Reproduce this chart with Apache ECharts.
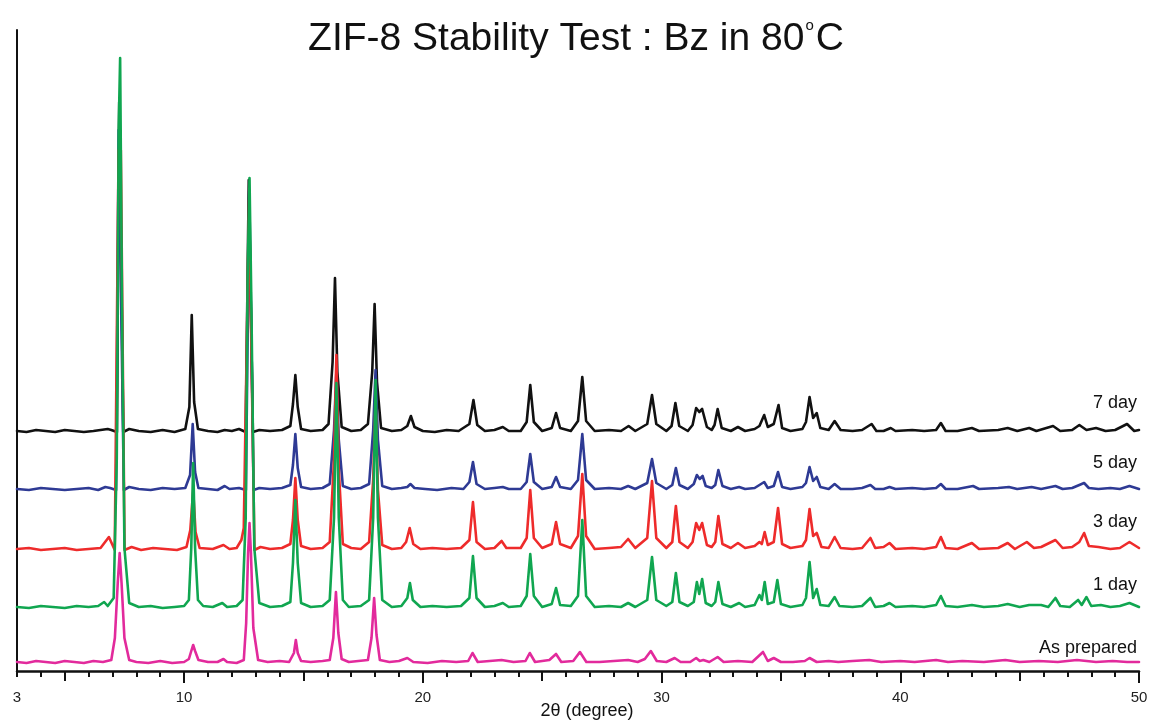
<!DOCTYPE html>
<html>
<head>
<meta charset="utf-8">
<script src="https://cdn.jsdelivr.net/npm/echarts@6/dist/echarts.min.js"></script>
<style>html,body{margin:0;padding:0;background:#fff;}#c{width:1152px;height:726px;}</style>
</head>
<body>
<div id="c"></div>
<script>
// Series names (bottom to top of the stack)
var seriesNames = ['As prepared', '1 day', '3 day', '5 day', '7 day'];
// Vertical stacking offsets (intensity units)
var offsets = [8, 63, 121, 181, 239];
// x-axis tick labels
var tickLabels = [3, 10, 20, 30, 40, 50];

// Patterns: [2θ, intensity above the pattern's baseline]
var asPrepared = [[3.0,1],[3.4,0],[3.8,2],[4.2,1],[4.6,0],[5.0,2],[5.4,1],[5.8,0],[6.2,2],[6.6,1],[6.95,3],
[7.1,25],[7.22,80],[7.3,110],[7.38,80],[7.5,25],[7.7,3],
[8.0,1],[8.5,0],[9.0,2],[9.5,0],[10.0,1],[10.2,4],[10.3,12],[10.38,18],[10.46,12],[10.6,3],
[11.0,1],[11.4,1],[11.65,4],[11.8,1],[12.2,0],[12.5,3],[12.6,40],[12.68,110],[12.74,140],[12.8,110],[12.9,35],[13.1,3],
[13.5,1],[14.0,2],[14.4,1],[14.6,10],[14.68,23],[14.76,10],[14.9,2],
[15.3,1],[15.8,2],[16.1,3],[16.25,25],[16.36,71],[16.46,30],[16.6,4],
[16.9,1],[17.3,2],[17.7,3],[17.85,25],[17.96,65],[18.06,28],[18.2,3],
[18.6,1],[19.0,2],[19.35,5],[19.6,1],[20.2,0],[20.8,2],[21.4,1],[21.9,2],[22.08,10],[22.3,1],
[22.8,2],[23.3,3],[23.8,1],[24.3,2],[24.48,10],[24.7,1],[25.3,3],[25.58,9],[25.8,1],[26.3,2],[26.58,11],[26.85,1],
[27.4,1],[28.0,2],[28.6,3],[29.0,1],[29.3,4],[29.55,12],[29.8,2],[30.2,1],[30.55,5],[30.8,1],[31.2,1],[31.45,5],[31.6,2],[31.75,3],[32.0,1],[32.35,6],[32.6,1],
[33.2,2],[33.8,1],[34.25,11],[34.45,2],[34.7,5],[35.0,1],[35.5,1],[36.0,2],[36.2,5],[36.5,1],[37.0,2],[37.4,1],[38.0,2],[38.7,3],[39.2,1],[40.0,2],[40.6,1],[41.5,3],[42.0,1],[42.6,2],[43.5,1],[44.4,3],[45.0,1],[45.8,2],[46.6,1],[47.4,3],[48.2,1],[48.9,2],[49.5,1],[50.0,1]];

var day1 = [[3.0,1],[3.5,0],[4.0,2],[4.5,1],[5.0,0],[5.5,2],[6.0,1],[6.4,2],[6.65,6],[6.8,2],[7.05,10],[7.18,150],[7.26,480],[7.32,550],[7.4,300],[7.5,60],[7.7,5],
[8.1,1],[8.6,2],[9.1,0],[9.6,1],[10.0,2],[10.2,8],[10.3,60],[10.38,145],[10.46,60],[10.58,8],[10.8,2],
[11.2,1],[11.6,5],[11.8,1],[12.2,2],[12.45,8],[12.58,90],[12.66,330],[12.74,430],[12.82,300],[12.94,60],[13.15,5],
[13.6,1],[14.1,2],[14.45,6],[14.56,45],[14.66,108],[14.76,45],[14.9,5],
[15.3,1],[15.8,2],[16.1,8],[16.28,90],[16.38,225],[16.48,90],[16.65,8],
[16.9,1],[17.4,2],[17.75,8],[17.92,90],[18.02,228],[18.12,90],[18.3,8],
[18.7,1],[19.1,2],[19.35,10],[19.46,25],[19.58,8],[19.9,1],[20.4,2],[21.0,1],[21.6,2],[21.95,10],[22.1,52],[22.25,10],[22.6,1],
[23.0,2],[23.35,5],[23.6,1],[24.1,2],[24.35,12],[24.5,54],[24.65,12],[25.0,1],[25.4,4],[25.58,20],[25.75,3],[26.2,2],[26.5,12],[26.68,88],[26.84,12],[27.2,1],
[27.8,2],[28.3,1],[28.6,5],[28.9,1],[29.4,8],[29.6,51],[29.78,8],[30.2,2],[30.45,6],[30.6,35],[30.75,6],[31.1,2],[31.35,6],[31.48,26],[31.58,14],[31.7,29],[31.85,5],[32.1,2],[32.25,6],[32.38,26],[32.55,4],[32.9,1],[33.25,5],[33.5,1],[33.9,3],[34.1,13],[34.2,8],[34.32,26],[34.45,4],[34.7,6],[34.85,28],[35.0,4],[35.4,1],[35.9,3],[36.05,10],[36.2,46],[36.35,10],[36.5,19],[36.65,3],[37.0,2],[37.25,11],[37.45,2],[38.0,1],[38.4,2],[38.75,10],[38.95,1],[39.3,2],[39.55,5],[39.8,1],[40.5,2],[41.0,1],[41.5,3],[41.7,12],[41.9,2],[42.4,1],[43.0,3],[43.5,1],[44.1,2],[44.5,4],[45.0,1],[45.4,3],[45.9,3],[46.2,1],[46.5,10],[46.7,2],[47.1,1],[47.45,8],[47.6,3],[47.8,11],[48.0,2],[48.4,3],[48.8,1],[49.2,2],[49.6,5],[50.0,1]];

var day3 = [[3.0,1],[3.5,2],[4.0,0],[4.5,1],[5.0,2],[5.5,0],[6.0,1],[6.5,2],[6.85,13],[7.0,5],[7.095,0],[7.255,400],[7.349,400],[7.507,0],[7.8,3],
[8.2,0],[8.7,2],[9.2,1],[9.7,0],[10.1,3],[10.26,20],[10.38,60],[10.48,18],[10.65,2],
[11.2,1],[11.65,5],[11.9,1],[12.2,2],[12.4,10],[12.5,22],[12.564,22],[12.722,350],[12.754,350],[12.948,0],[13.2,3],
[13.6,1],[14.1,2],[14.45,6],[14.56,30],[14.66,72],[14.76,30],[14.9,4],
[15.3,1],[15.8,2],[16.1,8],[16.28,90],[16.38,195],[16.48,80],[16.65,6],
[17.0,2],[17.4,1],[17.75,8],[17.92,70],[18.02,150],[18.12,60],[18.3,5],
[18.7,1],[19.1,2],[19.3,8],[19.45,22],[19.6,6],[19.9,1],[20.4,2],[21.0,1],[21.6,2],[21.95,10],[22.1,48],[22.25,8],[22.6,1],
[23.0,2],[23.3,9],[23.5,2],[24.1,2],[24.35,12],[24.5,60],[24.65,12],[25.0,2],[25.4,6],[25.58,28],[25.75,6],[26.2,2],[26.5,14],[26.68,76],[26.84,14],[27.2,1],
[27.8,2],[28.3,3],[28.6,11],[28.9,2],[29.4,12],[29.6,69],[29.78,12],[30.2,2],[30.45,8],[30.6,44],[30.75,8],[31.1,2],[31.3,8],[31.45,27],[31.58,20],[31.7,27],[31.9,5],[32.1,3],[32.25,8],[32.38,34],[32.55,6],[32.9,2],[33.2,7],[33.5,2],[33.9,4],[34.1,8],[34.2,6],[34.32,18],[34.45,5],[34.7,8],[34.88,42],[35.05,6],[35.4,2],[35.9,4],[36.05,10],[36.2,41],[36.35,14],[36.5,17],[36.7,3],[37.0,2],[37.25,13],[37.5,2],[38.0,1],[38.4,2],[38.75,12],[38.95,2],[39.3,3],[39.55,7],[39.8,1],[40.5,2],[41.0,1],[41.5,3],[41.7,13],[41.9,2],[42.4,1],[43.0,7],[43.3,1],[44.1,2],[44.5,7],[44.8,1],[45.3,8],[45.6,2],[45.9,3],[46.5,10],[46.8,2],[47.2,3],[47.5,8],[47.7,17],[47.9,4],[48.3,3],[48.8,1],[49.2,2],[49.6,8],[50.0,2]];

var day5 = [[3.0,1],[3.5,0],[4.0,2],[4.5,1],[5.0,0],[5.5,1],[6.0,2],[6.4,0],[6.7,3],[6.9,2],[7.15,0],[7.26,360],[7.343,360],[7.476,0],[7.7,3],
[8.1,1],[8.6,0],[9.1,2],[9.6,1],[10.05,2],[10.25,15],[10.36,66],[10.46,18],[10.6,2],
[11.0,1],[11.4,0],[11.7,4],[11.9,1],[12.3,2],[12.589,0],[12.73,300],[12.747,300],[12.911,0],[13.15,2],
[13.6,1],[14.1,2],[14.45,5],[14.56,25],[14.66,56],[14.76,22],[14.9,3],
[15.3,1],[15.8,2],[16.1,6],[16.28,60],[16.38,120],[16.48,50],[16.65,4],
[17.0,1],[17.4,2],[17.75,6],[17.92,60],[18.02,120],[18.12,50],[18.3,4],
[18.7,1],[19.1,2],[19.35,3],[19.48,6],[19.65,2],[20.1,1],[20.6,0],[21.2,2],[21.7,1],[21.95,8],[22.1,28],[22.25,6],[22.6,1],
[23.0,2],[23.35,3],[23.6,1],[24.1,1],[24.35,8],[24.5,36],[24.65,8],[25.0,1],[25.4,3],[25.58,13],[25.75,3],[26.2,1],[26.5,10],[26.68,56],[26.84,10],[27.2,1],
[27.8,2],[28.3,1],[28.6,4],[28.9,1],[29.4,7],[29.6,31],[29.78,7],[30.2,1],[30.45,5],[30.6,22],[30.75,5],[31.1,1],[31.35,6],[31.48,15],[31.6,11],[31.72,14],[31.85,4],[32.1,2],[32.25,5],[32.38,20],[32.55,4],[32.9,1],[33.25,3],[33.5,1],[33.9,2],[34.1,5],[34.3,8],[34.45,2],[34.7,4],[34.88,18],[35.05,3],[35.4,1],[35.9,3],[36.05,7],[36.2,23],[36.35,9],[36.5,13],[36.65,3],[37.0,1],[37.25,6],[37.5,1],[38.0,1],[38.4,2],[38.75,5],[38.95,1],[39.3,1],[39.55,3],[39.8,1],[40.5,2],[41.0,1],[41.5,2],[41.7,6],[41.9,1],[42.4,1],[43.05,4],[43.3,1],[44.1,2],[44.55,3],[44.9,1],[45.5,3],[45.9,1],[46.5,4],[46.8,1],[47.2,2],[47.7,7],[47.9,2],[48.3,1],[48.8,2],[49.2,1],[49.6,4],[50.0,1]];

var day7 = [[3.0,1],[3.4,0],[3.8,2],[4.2,1],[4.6,0],[5.0,2],[5.4,1],[5.8,0],[6.2,1],[6.5,2],[6.8,3],[6.95,2],[7.186,0],[7.282,330],[7.334,330],[7.452,0],[7.7,3],
[8.1,1],[8.6,0],[9.1,2],[9.6,0],[10.05,3],[10.22,25],[10.32,117],[10.42,30],[10.58,3],
[11.0,1],[11.4,0],[11.7,2],[12.0,1],[12.3,3],[12.58,0],[12.708,252],[12.74,250],[12.882,0],[13.15,2],
[13.6,1],[14.1,2],[14.45,6],[14.56,28],[14.66,57],[14.76,25],[14.9,3],
[15.3,1],[15.8,2],[16.05,8],[16.22,70],[16.32,154],[16.42,60],[16.6,5],
[17.0,1],[17.4,2],[17.7,8],[17.88,60],[17.98,128],[18.08,50],[18.25,4],
[18.7,1],[19.1,2],[19.35,6],[19.5,16],[19.65,5],[20.0,1],[20.5,0],[21.0,2],[21.5,1],[21.95,8],[22.12,32],[22.28,7],[22.6,1],
[23.0,2],[23.35,5],[23.6,1],[24.1,1],[24.35,10],[24.5,47],[24.65,10],[25.0,1],[25.4,4],[25.58,19],[25.75,4],[26.2,1],[26.5,11],[26.68,55],[26.84,11],[27.2,1],
[27.8,2],[28.3,1],[28.62,6],[28.9,1],[29.4,8],[29.6,37],[29.78,8],[30.2,1],[30.42,6],[30.58,29],[30.74,6],[31.1,1],[31.3,7],[31.45,24],[31.58,20],[31.7,23],[31.9,5],[32.1,2],[32.22,7],[32.35,23],[32.52,4],[32.9,1],[33.2,5],[33.5,1],[33.9,3],[34.1,6],[34.3,17],[34.45,5],[34.7,8],[34.9,27],[35.05,4],[35.4,1],[35.9,3],[36.05,10],[36.2,35],[36.35,14],[36.5,19],[36.65,4],[37.0,2],[37.25,11],[37.5,2],[38.0,1],[38.4,2],[38.8,8],[39.0,1],[39.3,1],[39.6,4],[39.8,1],[40.5,2],[41.0,1],[41.5,2],[41.7,9],[41.9,1],[42.4,1],[43.0,4],[43.3,1],[44.1,2],[44.5,4],[44.9,1],[45.4,4],[45.7,1],[46.4,6],[46.7,1],[47.2,2],[47.5,7],[47.8,2],[48.2,4],[48.6,1],[49.0,2],[49.5,8],[49.8,1],[50.0,2]];

var patterns = [asPrepared, day1, day3, day5, day7];
var colors = ['#e22a9c', '#10a650', '#ee2b2b', '#2e3a94', '#111111'];
var labelLift = [15, 23, 28, 27, 29];
// draw order: As prepared, 7 day, 5 day, 3 day, 1 day (1 day on top)
var drawOrder = [0, 4, 3, 2, 1];

var FONT = '"Liberation Sans", Arial, sans-serif';
var series = drawOrder.map(function (i) {
  var off = offsets[i];
  return {
    name: seriesNames[i],
    type: 'line',
    xAxisIndex: 0,
    yAxisIndex: 0,
    showSymbol: false,
    symbol: 'none',
    smooth: false,
    animation: false,
    lineStyle: { color: colors[i], width: 2.6, join: 'round', cap: 'round' },
    itemStyle: { color: colors[i] },
    data: patterns[i].map(function (p) { return [p[0], p[1] + off]; }),
    markPoint: {
      symbol: 'circle',
      symbolSize: 0,
      animation: false,
      data: [{ coord: [50, off + labelLift[i]] }],
      label: {
        show: true, position: 'left', distance: 2,
        formatter: seriesNames[i], fontSize: 18, color: '#111', fontFamily: FONT
      }
    }
  };
});

function range(a, b) { var r = []; for (var v = a; v <= b; v++) r.push(v); return r; }

var baseX = { type: 'value', min: 3, max: 50, gridIndex: 0, position: 'bottom', splitLine: { show: false } };
var chart = echarts.init(document.getElementById('c'));
chart.setOption({
  backgroundColor: '#ffffff',
  animation: false,
  title: {
    text: '{a|ZIF-8 Stability Test : Bz in 80}{s|o}{a|C}',
    left: 'center', top: 18, padding: [0, 0, 0, 16],
    textStyle: {
      fontWeight: 'normal',
      rich: {
        a: { fontSize: 39, fontFamily: FONT, fontWeight: 'normal', color: '#111', lineHeight: 42 },
        s: { fontSize: 15, fontFamily: FONT, fontWeight: 'normal', color: '#111', verticalAlign: 'top', lineHeight: 14, padding: [0, 2, 0, 1] }
      }
    }
  },
  grid: { left: 17, right: 13, top: 30, bottom: 55, containLabel: false, outerBoundsMode: 'none' },
  xAxis: [
    Object.assign({}, baseX, {
      name: '2θ (degree)', nameLocation: 'middle', nameGap: 31, nameMoveOverlap: false,
      nameTextStyle: { fontSize: 18, fontFamily: FONT, color: '#111', padding: [0, 0, 0, 18] },
      axisLine: { show: true, lineStyle: { color: '#111', width: 2.5 } },
      axisTick: { show: true, customValues: range(3, 50), length: 6, lineStyle: { color: '#111', width: 2 } },
      axisLabel: { show: true, customValues: tickLabels, margin: 19, fontSize: 15, fontFamily: FONT, color: '#222' }
    }),
    Object.assign({}, baseX, {
      axisLine: { show: false },
      axisTick: { show: true, customValues: [5, 15, 25, 35, 45], length: 10, lineStyle: { color: '#111', width: 2 } },
      axisLabel: { show: false }
    }),
    Object.assign({}, baseX, {
      axisLine: { show: false },
      axisTick: { show: true, customValues: [10, 20, 30, 40, 50], length: 12, lineStyle: { color: '#111', width: 2 } },
      axisLabel: { show: false }
    })
  ],
  yAxis: {
    type: 'value', min: 0, max: 641,
    axisLine: { show: true, onZero: false, lineStyle: { color: '#111', width: 2 } },
    axisTick: { show: false }, axisLabel: { show: false }, splitLine: { show: false }
  },
  series: series
});
</script>
</body>
</html>
